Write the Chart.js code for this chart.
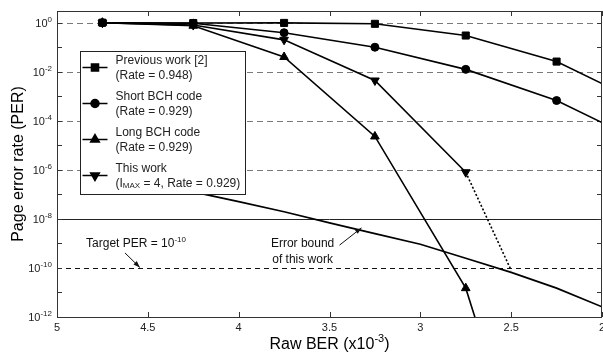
<!DOCTYPE html>
<html>
<head>
<meta charset="utf-8">
<script src="https://cdn.jsdelivr.net/npm/chart.js@4.4.1/dist/chart.umd.min.js"></script>
<style>
  html, body { margin: 0; padding: 0; background: #fff; }
</style>
</head>
<body>
<canvas id="per-chart" width="603" height="354"></canvas>
<script>
// values (x = raw BER in units of 1e-3)
const berPoints = [4.75, 4.25, 3.75, 3.25, 2.75, 2.25, 2.0];
const previousWork = [1, 0.97, 0.98, 0.9, 0.3, 0.026, 0.0033];
const shortBch = [1, 0.95, 0.39, 0.1, 0.0125, 6.7e-4, 8.5e-5];

const steepBer = [4.75, 4.25, 3.75, 3.25, 2.75, 2.5];
const longBch = [1, 0.75, 0.04, 2.3e-5, 1.5e-11, 2e-17];
const thisWork = [1, 0.8, 0.2, 0.0044, 8e-7, 8e-11];

const boundBer = [4.5, 4.25, 4.0, 3.75, 3.5, 3.25, 3.0, 2.75, 2.5, 2.25, 2.0];
const errorBound = [3.2e-7, 1.26e-7, 5.1e-8, 1.95e-8, 6.9e-9, 2.5e-9, 9.3e-10, 2.5e-10, 6.6e-11, 1.5e-11, 2.6e-12];

const xTicks = [5, 4.5, 4, 3.5, 3, 2.5, 2];
const yExponents = [0, -1, -2, -3, -4, -5, -6, -7, -8, -9, -10, -11, -12];
const gridExponents = [0, -2, -4, -6];
const requiredPer = 1e-8;
const targetPer = 1e-10;

const legendLines = [
  ['Previous work [2]', '(Rate = 0.948)'],
  ['Short BCH code', '(Rate = 0.929)'],
  ['Long BCH code', '(Rate = 0.929)'],
  ['This work', '(I', 'MAX', ' = 4, Rate = 0.929)']
];

// annotation anchors in data units: [ber, per]
const targetText = [4.84, 1.05e-9];
const targetArrow = [[4.626, 4.1e-10], [4.544, 1.05e-10]];
const boundText = [3.648, 9.5e-10, 2.1e-10];
const boundArrow = [[3.445, 8.5e-10], [3.324, 4.3e-9]];

const FONT = '"Liberation Sans", Arial, Helvetica, sans-serif';
Chart.defaults.font.family = FONT;

function pts(xs, ys) {
  return xs.map((x, i) => ({ x: x, y: ys[i] }));
}

function sup(ctx, parts, x, y, align, big, small) {
  // parts: [base, sup, base, sup ...]
  let w = 0;
  parts.forEach((p, i) => {
    ctx.font = (i % 2 ? small : big) + 'px ' + FONT;
    w += ctx.measureText(p).width;
  });
  let cx = align === 'right' ? x - w : align === 'center' ? x - w / 2 : x;
  ctx.textAlign = 'left';
  ctx.textBaseline = 'alphabetic';
  parts.forEach((p, i) => {
    ctx.font = (i % 2 ? small : big) + 'px ' + FONT;
    ctx.fillText(p, cx, i % 2 ? y - big * 0.42 : y);
    cx += ctx.measureText(p).width;
  });
}

function arrow(ctx, x1, y1, x2, y2) {
  ctx.beginPath();
  ctx.moveTo(x1, y1);
  ctx.lineTo(x2, y2);
  ctx.lineWidth = 1;
  ctx.stroke();
  const a = Math.atan2(y2 - y1, x2 - x1);
  ctx.beginPath();
  ctx.moveTo(x2, y2);
  ctx.lineTo(x2 - 7 * Math.cos(a - 0.35), y2 - 7 * Math.sin(a - 0.35));
  ctx.lineTo(x2 - 7 * Math.cos(a + 0.35), y2 - 7 * Math.sin(a + 0.35));
  ctx.closePath();
  ctx.fill();
}

const framePlugin = {
  id: 'frame',
  beforeDatasetsDraw(chart) {
    const { ctx, chartArea: a, scales: { x, y } } = chart;
    ctx.save();
    ctx.lineWidth = 1;
    // grey dashed grid
    ctx.strokeStyle = '#7a7a7a';
    ctx.setLineDash([6, 4]);
    gridExponents.forEach(e => {
      const py = Math.round(y.getPixelForValue(Math.pow(10, e))) + 0.5;
      ctx.beginPath(); ctx.moveTo(a.left, py); ctx.lineTo(a.right, py); ctx.stroke();
    });
    // target PER dashed black
    ctx.strokeStyle = '#111';
    ctx.setLineDash([5, 4]);
    let py = Math.round(y.getPixelForValue(targetPer)) + 0.5;
    ctx.beginPath(); ctx.moveTo(a.left, py); ctx.lineTo(a.right, py); ctx.stroke();
    // 1e-8 solid
    ctx.setLineDash([]);
    ctx.strokeStyle = '#222';
    py = Math.round(y.getPixelForValue(requiredPer)) + 0.5;
    ctx.beginPath(); ctx.moveTo(a.left, py); ctx.lineTo(a.right, py); ctx.stroke();
    // inside ticks
    ctx.strokeStyle = '#333';
    yExponents.forEach(e => {
      const ty = Math.round(y.getPixelForValue(Math.pow(10, e))) + 0.5;
      ctx.beginPath();
      ctx.moveTo(a.left, ty); ctx.lineTo(a.left + 5, ty);
      ctx.moveTo(a.right, ty); ctx.lineTo(a.right - 5, ty);
      ctx.stroke();
    });
    xTicks.forEach(v => {
      const tx = Math.round(x.getPixelForValue(v)) + 0.5;
      ctx.beginPath();
      ctx.moveTo(tx, a.top); ctx.lineTo(tx, a.top + 5);
      ctx.moveTo(tx, a.bottom); ctx.lineTo(tx, a.bottom - 5);
      ctx.stroke();
    });
    ctx.restore();
  },
  afterDatasetsDraw(chart) {
    const { ctx, chartArea: a, scales: { x, y } } = chart;
    ctx.save();
    ctx.strokeStyle = '#333';
    ctx.lineWidth = 1;
    ctx.strokeRect(Math.round(a.left) + 0.5, Math.round(a.top) + 0.5,
      Math.round(a.right - a.left) - 1, Math.round(a.bottom - a.top));

    // tick labels
    ctx.fillStyle = '#222';
    yExponents.filter(e => e % 2 === 0).forEach(e => {
      const ty = y.getPixelForValue(Math.pow(10, e));
      sup(ctx, ['10', String(e)], a.left - 5, ty + 4, 'right', 11, 8);
    });
    ctx.font = '11px ' + FONT;
    ctx.textAlign = 'center';
    ctx.textBaseline = 'alphabetic';
    xTicks.forEach(v => {
      ctx.fillText(String(v), x.getPixelForValue(v), a.bottom + 14);
    });

    // x axis title
    ctx.fillStyle = '#000';
    sup(ctx, ['Raw BER (x10', '-3', ')'], (a.left + a.right) / 2, 349, 'center', 16, 11);

    // annotations
    ctx.fillStyle = '#111';
    ctx.strokeStyle = '#111';
    sup(ctx, ['Target PER = 10', '-10'], x.getPixelForValue(targetText[0]),
      y.getPixelForValue(targetText[1]) + 4, 'left', 12, 8);
    arrow(ctx, x.getPixelForValue(targetArrow[0][0]), y.getPixelForValue(targetArrow[0][1]),
      x.getPixelForValue(targetArrow[1][0]), y.getPixelForValue(targetArrow[1][1]));
    ctx.font = '12px ' + FONT;
    ctx.textAlign = 'center';
    ctx.textBaseline = 'middle';
    const bx = x.getPixelForValue(boundText[0]);
    ctx.fillText('Error bound', bx, y.getPixelForValue(boundText[1]));
    ctx.fillText('of this work', bx, y.getPixelForValue(boundText[2]));
    arrow(ctx, x.getPixelForValue(boundArrow[0][0]), y.getPixelForValue(boundArrow[0][1]),
      x.getPixelForValue(boundArrow[1][0]), y.getPixelForValue(boundArrow[1][1]));

    // legend box
    const lx = 80.5, ly = 51.5, lw = 165, lh = 143;
    ctx.fillStyle = '#fff';
    ctx.fillRect(lx, ly, lw, lh);
    ctx.strokeStyle = '#222';
    ctx.strokeRect(lx, ly, lw, lh);
    legendLines.forEach((lines, i) => {
      const ds = chart.data.datasets[i];
      const cy = ly + 16 + i * 36;
      ctx.strokeStyle = '#000';
      ctx.lineWidth = 1.5;
      ctx.beginPath(); ctx.moveTo(lx + 2, cy); ctx.lineTo(lx + 27, cy); ctx.stroke();
      ctx.fillStyle = '#000';
      Chart.helpers.drawPoint(ctx, {
        pointStyle: ds.pointStyle, rotation: ds.rotation || 0,
        radius: ds.legendRadius, borderWidth: 1
      }, lx + 14.5, cy);
      ctx.fillStyle = '#222';
      ctx.textAlign = 'left';
      ctx.textBaseline = 'middle';
      ctx.font = '12px ' + FONT;
      ctx.fillText(lines[0], lx + 35, cy - 7);
      if (lines.length === 2) {
        ctx.fillText(lines[1], lx + 35, cy + 8);
      } else {
        let tx = lx + 35;
        ctx.fillText(lines[1], tx, cy + 8);
        tx += ctx.measureText(lines[1]).width;
        ctx.font = '8px ' + FONT;
        ctx.fillText(lines[2], tx, cy + 10);
        tx += ctx.measureText(lines[2]).width;
        ctx.font = '12px ' + FONT;
        ctx.fillText(lines[3], tx, cy + 8);
      }
    });
    ctx.restore();
  }
};

const lineStyle = {
  borderColor: '#000',
  backgroundColor: '#000',
  pointBorderColor: '#000',
  pointBackgroundColor: '#000',
  borderWidth: 1.6,
  pointBorderWidth: 1,
  tension: 0
};

const chart = new Chart(document.getElementById('per-chart'), {
  type: 'line',
  data: {
    datasets: [
      Object.assign({}, lineStyle, {
        label: legendLines[0][0],
        data: pts(berPoints, previousWork),
        pointStyle: 'rect', pointRadius: [5, 5, 5, 5, 5, 5, 0], legendRadius: 5
      }),
      Object.assign({}, lineStyle, {
        label: legendLines[1][0],
        data: pts(berPoints, shortBch),
        pointStyle: 'circle', pointRadius: [4, 4, 4, 4, 4, 4, 0], legendRadius: 4
      }),
      Object.assign({}, lineStyle, {
        label: legendLines[2][0],
        data: pts(steepBer, longBch),
        pointStyle: 'triangle', pointRadius: [5, 5, 5, 5, 5, 0], legendRadius: 5
      }),
      Object.assign({}, lineStyle, {
        label: legendLines[3][0],
        data: pts(steepBer, thisWork),
        pointStyle: 'triangle', rotation: 180, pointRotation: 180,
        pointRadius: [5, 5, 5, 5, 5, 0], legendRadius: 5,
        segment: { borderDash: c => c.p0DataIndex === 4 ? [2, 2] : undefined }
      }),
      Object.assign({}, lineStyle, {
        label: 'Error bound of this work',
        data: pts(boundBer, errorBound),
        pointRadius: 0, borderWidth: 1.7
      })
    ]
  },
  options: {
    responsive: false,
    animation: false,
    devicePixelRatio: 1,
    layout: { autoPadding: false, padding: { left: 0, right: 1, top: 11, bottom: 0 } },
    plugins: { legend: { display: false }, tooltip: { enabled: false } },
    scales: {
      x: {
        type: 'linear',
        reverse: true,
        min: 2,
        max: 5,
        afterBuildTicks: s => { s.ticks = xTicks.map(v => ({ value: v })); },
        ticks: { display: false },
        grid: { display: false, drawTicks: false },
        border: { display: false },
        afterFit: s => { s.height = 37; s.paddingLeft = 0; s.paddingRight = 0; }
      },
      y: {
        type: 'logarithmic',
        min: 1e-12,
        max: 3,
        afterBuildTicks: s => { s.ticks = yExponents.map(e => ({ value: Math.pow(10, e) })); },
        ticks: { display: false },
        grid: { display: false, drawTicks: false },
        border: { display: false },
        title: {
          display: true,
          text: 'Page error rate (PER)',
          font: { size: 16 },
          color: '#000',
          padding: { top: 9, bottom: 0 }
        },
        afterFit: s => { s.width = 57; s.paddingTop = 0; s.paddingBottom = 0; }
      }
    }
  },
  plugins: [framePlugin]
});
</script>
</body>
</html>
